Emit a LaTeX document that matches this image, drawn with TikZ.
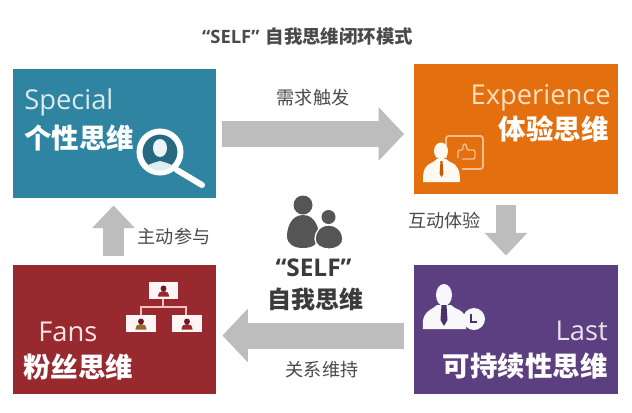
\documentclass[tikz,border=0pt]{standalone}
\usepackage{fontspec}
\setmainfont{Open Sans}
\newfontfamily\cjk{Noto Sans CJK SC}
\usetikzlibrary{arrows.meta}
\definecolor{cteal}{HTML}{2F85A1}
\definecolor{corange}{HTML}{E36F0E}
\definecolor{cred}{HTML}{97292F}
\definecolor{cpurple}{HTML}{5C3F80}
\definecolor{carrow}{HTML}{BDBDBD}
\definecolor{cdark}{HTML}{555555}
\definecolor{clabel}{HTML}{4A4A4A}
\tikzset{
  box/.style={inner sep=0pt,minimum width=152.5pt,minimum height=97pt},
  blockh/.style={draw=carrow,line width=19.5pt,-{Triangle[length=19pt,width=39pt,fill=carrow]}},
  blockv/.style={draw=carrow,line width=15.5pt,-{Triangle[length=17pt,width=31pt,fill=carrow]}},
  lab/.style={inner sep=0pt,text=clabel,font=\cjk\fontsize{13.6}{14}\selectfont},
  en/.style={inner sep=0pt,font=\fontsize{20.5}{22}\selectfont},
  zh/.style={inner sep=0pt,text=white,font=\cjk\bfseries\fontsize{20.6}{22}\selectfont},
}
\begin{document}
\begin{tikzpicture}[x=0.75pt,y=-0.75pt]
\useasboundingbox (0,0) rectangle (632,412);
\fill[white] (0,0) rectangle (632,412);
% boxes
\node[box,fill=cteal] (special) at (114.5,133.5) {};
\node[box,fill=corange] (exper) at (516,129) {};
\node[box,fill=cred] (fans) at (114.5,329.5) {};
\node[box,fill=cpurple] (last) at (516,329.5) {};
% arrows
\draw[blockh] ([shift={(6,0.5)}]special.east) -- ([shift={(-10,5)}]exper.west);
\draw[blockv] ([shift={(-10,11)}]exper.south) -- ([shift={(-10,-9)}]last.north);
\draw[blockh] ([shift={(-10,6)}]last.west) -- ([shift={(6,6)}]fans.east);
\draw[blockv] ([shift={(-1,-9)}]fans.north) -- ([shift={(-1,7)}]special.south);
% title and labels
\node[inner sep=0pt,text=clabel,font=\bfseries\fontsize{13.8}{15}\selectfont] (title) at (307.5,36) {“SELF”\,\,{\cjk 自我思维闭环模式}};
\node[lab] (l1) at (313,98) {需求触发};
\node[lab] (l2) at (444.5,221) {互动体验};
\node[lab] (l3) at (174,237) {主动参与};
\node[lab] (l4) at (322,370) {关系维持};
% box texts
\node[en,text=cteal!18!white,anchor=west] (t1) at (24,102) {Special};
\node[zh,anchor=west] (t1b) at (24,138) {个性思维};
\node[en,text=orange!25!white,anchor=east] (t2) at (611,98) {Experience};
\node[zh,anchor=east] (t2b) at (609,129) {体验思维};
\node[en,text=red!10!white,anchor=west] (t3) at (38,332) {Fans};
\node[zh,anchor=west] (t3b) at (23,367) {粉丝思维};
\node[en,text=cpurple!15!white,anchor=east] (t4) at (608,331) {Last};
\node[zh,anchor=east] (t4b) at (608,366) {可持续性思维};
% centre
\fill[cdark] (303,205) circle (9.5);
\fill[cdark] (303,215) .. controls (291,215) and (287,228) .. (287,236) .. controls (287,244) and (294,248) .. (303,248) .. controls (312,248) and (319,244) .. (319,236) .. controls (319,228) and (315,215) .. (303,215) -- cycle;
\fill[cdark,draw=white,line width=1pt] (328.5,225) .. controls (320,225) and (315,232) .. (315,239) .. controls (315,245) and (321,249) .. (329,249) .. controls (337,249) and (343,245) .. (343,239) .. controls (343,232) and (337,225) .. (328.5,225) -- cycle;
\fill[cdark] (328.5,217) circle (7);
\node[inner sep=0pt,text=cdark!70!black,font=\bfseries\fontsize{18.3}{20}\selectfont] (self) at (313.5,268) {“SELF”};
\node[inner sep=0pt,text=cdark!70!black,font=\cjk\bfseries\fontsize{18}{20}\selectfont] (selfz) at (315,299) {自我思维};
% magnifier
\draw[white,line width=4.5pt,line cap=round] (177,170) -- (202,185);
\draw[white,line width=4.5pt,fill=cteal!80!black] (160,152) circle (20.5);
\begin{scope}
\clip (160,152) circle (18.5);
\fill[white!85!cteal] (140,178) .. controls (141,167) and (148,164) .. (160,161) .. controls (172,164) and (179,167) .. (180,178) -- cycle;
\fill[white!90!cteal] (160,148) ellipse (7 and 9);
\end{scope}
% experience icon
\draw[corange!45!white,line width=1.4pt,rounded corners=2pt] (446,136) rectangle (483,169);
\draw[corange!45!white,line width=1.1pt,rounded corners=1pt] (458,150) -- (463,150) -- (463,144) -- (466,144) -- (467,150) -- (475,150) -- (475,159) -- (458,159) -- cycle;
\fill[corange] (436,158) rectangle (462,186);
\fill[white!95!orange] (441,151) ellipse (7 and 8.5);
\fill[white!95!orange] (423,182) .. controls (423,170) and (424,166) .. (433,162) -- (437,159) -- (446,159) -- (450,162) .. controls (458,165) and (460,170) .. (460,182) -- cycle;
\fill[corange!85!black] (440.5,161) -- (442.5,161) -- (443.5,174) -- (441.5,177) -- (439.5,174) -- cycle;
% last icon
\fill[white!96!cpurple] (444,295) ellipse (8 and 11);
\fill[white!96!cpurple] (423,329) .. controls (422,318) and (424,313) .. (433,308) -- (437,305) -- (451,305) -- (455,308) .. controls (461,310) and (464,313) .. (466,318) -- (466,329) -- cycle;
\fill[cpurple!80!black] (441.5,305) -- (446.5,305) -- (447.5,320) -- (444,326) -- (440.5,320) -- cycle;
\fill[white!96!cpurple] (474,319) circle (11);
\draw[cpurple!80!black,line width=1.2pt] (471,314) -- (471,322) -- (477,322);
% fans icon
\draw[white!75!red,line width=1.3pt] (163,299) -- (163,307) (141,315) -- (141,307) -- (186,307) -- (186,315);
\node[fill=white!96!red,inner sep=0pt,minimum width=22pt,minimum height=13pt] (f1) at (163.5,290.5) {};
\node[fill=white!96!red,inner sep=0pt,minimum width=22pt,minimum height=13pt] (f2) at (141,323.5) {};
\node[fill=white!96!red,inner sep=0pt,minimum width=22pt,minimum height=13pt] (f3) at (187,323.5) {};
\foreach \n/\c in {f1/cred,f2/brown!80!black,f3/cred}{
  \fill[\c] ([shift={(-5.5,6)}]\n.center) .. controls ([shift={(-5.5,2)}]\n.center) and ([shift={(-3,0.5)}]\n.center) .. ([shift={(0,0.5)}]\n.center) .. controls ([shift={(3,0.5)}]\n.center) and ([shift={(5.5,2)}]\n.center) .. ([shift={(5.5,6)}]\n.center) -- cycle;
  \fill[black!30!cred] ([shift={(0,-2)}]\n.center) circle (3);
}
\end{tikzpicture}
\end{document}
